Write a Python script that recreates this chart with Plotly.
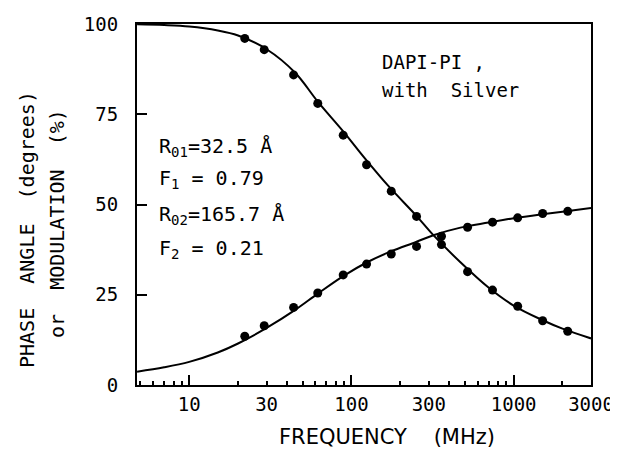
import plotly.graph_objects as go

# ---- data ----
freq_pts = [22, 29, 44, 62, 89, 124, 176, 252, 359, 520, 741, 1059, 1510, 2155]
modulation_pts = [96.0, 92.9, 85.9, 78.0, 69.2, 61.0, 53.7, 46.7, 38.9, 31.4, 26.3, 21.8, 17.8, 14.9]
phase_pts = [13.5, 16.4, 21.5, 25.5, 30.5, 33.5, 36.3, 38.4, 41.2, 43.7, 45.1, 46.3, 47.5, 48.1]

mod_curve_f = [4.77, 7, 10, 15, 20, 30, 45, 62, 90, 120, 170, 250, 320, 470, 700, 1000, 1500, 2000, 3000]
mod_curve_v = [99.9, 99.7, 99.3, 98.2, 96.8, 93.0, 86.5, 78.5, 70.0, 63.0, 55.0, 47.0, 41.5, 34.0, 27.0, 22.0, 18.0, 15.6, 12.9]

phase_curve_f = [4.77, 7, 10, 15, 20, 30, 45, 62, 90, 125, 175, 250, 320, 470, 700, 1000, 1500, 2000, 3000]
phase_curve_v = [3.7, 4.9, 6.4, 9.0, 11.5, 15.8, 20.8, 25.3, 30.3, 34.0, 37.0, 39.6, 41.5, 43.6, 45.0, 46.2, 47.3, 48.0, 49.0]

x_tick_vals = [10, 30, 100, 300, 1000, 3000]
x_tick_text = ["10", "30", "100", "300", "1000", "3000"]
x_major_vals = [10, 100, 1000]
x_minor_vals = [5, 6, 7, 8, 9, 20, 40, 50, 60, 70, 80, 90,
                200, 400, 500, 600, 700, 800, 900, 2000]
y_tick_vals = [0, 25, 50, 75, 100]

FONT = "DejaVu Sans Mono"
FONT_P = "DejaVu Sans"

fig = go.Figure()
fig.add_trace(go.Scatter(x=mod_curve_f, y=mod_curve_v, mode="lines",
                         line=dict(color="black", width=2, shape="spline", smoothing=1),
                         showlegend=False, hoverinfo="skip"))
fig.add_trace(go.Scatter(x=phase_curve_f, y=phase_curve_v, mode="lines",
                         line=dict(color="black", width=2, shape="spline", smoothing=1),
                         showlegend=False, hoverinfo="skip", xaxis="x2"))
fig.add_trace(go.Scatter(x=freq_pts, y=modulation_pts, mode="markers",
                         marker=dict(color="black", size=9), showlegend=False))
fig.add_trace(go.Scatter(x=freq_pts, y=phase_pts, mode="markers",
                         marker=dict(color="black", size=9), showlegend=False))

xr = [0.678, 3.477]
# page body has an 8px margin, so the figure is offset by (8, 8)
fig.update_layout(
    width=610, height=453,
    margin=dict(l=129, r=27, t=16, b=76),
    paper_bgcolor="white", plot_bgcolor="white",
    font=dict(family=FONT, size=19, color="black"),
    xaxis=dict(type="log", range=xr, showgrid=False, zeroline=False, automargin=False,
               showline=True, linecolor="black", linewidth=2, mirror=True,
               tickmode="array", tickvals=x_tick_vals, ticktext=x_tick_text,
               ticks="inside", ticklen=4, tickwidth=1.5, tickcolor="black",
               ticklabelstandoff=1,
               minor=dict(tickmode="array", tickvals=x_minor_vals, ticks="inside",
                          ticklen=4, tickwidth=1.5, tickcolor="black", showgrid=False),
               tickfont=dict(family=FONT, size=19)),
    xaxis2=dict(type="log", range=xr, overlaying="x", side="bottom", automargin=False,
                showgrid=False, zeroline=False, showline=False,
                tickmode="array", tickvals=x_major_vals, ticks="inside",
                ticklen=10, tickwidth=2, tickcolor="black", showticklabels=False),
    yaxis=dict(range=[0, 100], showgrid=False, zeroline=False, automargin=False,
               showline=True, linecolor="black", linewidth=2, mirror=True,
               tickmode="array", tickvals=y_tick_vals,
               ticks="inside", ticklen=10, tickwidth=2, tickcolor="black",
               ticklabelstandoff=13,
               tickfont=dict(family=FONT, size=19)),
)

def px_x(px):
    return (px - 137) / 454.0

def px_y(py):
    return (385 - py) / 361.0

ann = []
ann.append(dict(x=px_x(380), y=px_y(62), text="DAPI-PI ,", xanchor="left", yanchor="middle"))
ann.append(dict(x=px_x(380), y=px_y(90), text="with  Silver", xanchor="left", yanchor="middle"))
ann.append(dict(x=px_x(157), y=px_y(147), text="R<sub>01</sub>=32.5 Å", xanchor="left", yanchor="middle",
                font=dict(family=FONT, size=20)))
ann.append(dict(x=px_x(157), y=px_y(179), text="F<sub>1</sub> = 0.79", xanchor="left", yanchor="middle",
                font=dict(family=FONT, size=20)))
ann.append(dict(x=px_x(157), y=px_y(215), text="R<sub>02</sub>=165.7 Å", xanchor="left", yanchor="middle",
                font=dict(family=FONT, size=20)))
ann.append(dict(x=px_x(157), y=px_y(249), text="F<sub>2</sub> = 0.21", xanchor="left", yanchor="middle",
                font=dict(family=FONT, size=20)))
ann.append(dict(x=px_x(387), y=px_y(437), text="FREQUENCY    (MHz)", xanchor="center", yanchor="middle",
                font=dict(family=FONT_P, size=21)))
ann.append(dict(x=px_x(27), y=px_y(230), text="PHASE  ANGLE  (degrees)", textangle=-90,
                xanchor="center", yanchor="middle", font=dict(family=FONT, size=20)))
ann.append(dict(x=px_x(57), y=px_y(224), text="or  MODULATION  (%)", textangle=-90,
                xanchor="center", yanchor="middle", font=dict(family=FONT, size=20)))
for a in ann:
    a.update(xref="paper", yref="paper", showarrow=False)
    if "font" not in a:
        a["font"] = dict(family=FONT, size=19)
fig.update_layout(annotations=ann)

fig.write_html("out.html")
